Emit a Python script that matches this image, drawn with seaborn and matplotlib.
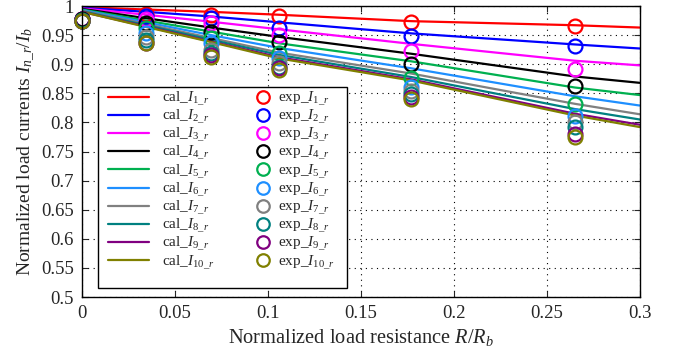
import numpy as np
import pandas as pd
import seaborn as sns
import matplotlib
matplotlib.use("Agg")
import matplotlib.pyplot as plt
from matplotlib.lines import Line2D
from matplotlib.patches import Rectangle
from matplotlib.ticker import FormatStrFormatter

# ---- data ----
names = [f"I{i}" for i in range(1, 11)]
colors = ["#ff0000", "#0000ff", "#ff00ff", "#000000", "#00b050",
          "#1e8fff", "#808080", "#008080", "#800080", "#808000"]

x_cal = [0.0, 0.0344, 0.0694, 0.1059, 0.177, 0.265, 0.3]
cal = {
    "I1":  [0.998, 0.994, 0.990, 0.985, 0.974, 0.967, 0.963],
    "I2":  [0.997, 0.990, 0.982, 0.972, 0.953, 0.934, 0.927],
    "I3":  [0.996, 0.985, 0.973, 0.960, 0.935, 0.906, 0.898],
    "I4":  [0.995, 0.979, 0.963, 0.947, 0.918, 0.879, 0.868],
    "I5":  [0.994, 0.975, 0.956, 0.936, 0.905, 0.860, 0.847],
    "I6":  [0.993, 0.972, 0.950, 0.928, 0.893, 0.845, 0.829],
    "I7":  [0.992, 0.969, 0.945, 0.920, 0.884, 0.832, 0.814],
    "I8":  [0.991, 0.967, 0.942, 0.916, 0.878, 0.823, 0.805],
    "I9":  [0.990, 0.965, 0.939, 0.912, 0.874, 0.815, 0.796],
    "I10": [0.990, 0.964, 0.938, 0.910, 0.872, 0.812, 0.792],
}

x_exp = [0.0, 0.0344, 0.0694, 0.1059, 0.177, 0.265]
exp = {
    "I1":  [0.978, 0.986, 0.985, 0.982, 0.972, 0.966],
    "I2":  [0.978, 0.982, 0.979, 0.962, 0.949, 0.931],
    "I3":  [0.977, 0.977, 0.970, 0.951, 0.922, 0.892],
    "I4":  [0.977, 0.970, 0.956, 0.938, 0.900, 0.862],
    "I5":  [0.976, 0.962, 0.945, 0.919, 0.877, 0.832],
    "I6":  [0.975, 0.953, 0.936, 0.911, 0.861, 0.811],
    "I7":  [0.975, 0.947, 0.925, 0.902, 0.854, 0.800],
    "I8":  [0.974, 0.942, 0.919, 0.896, 0.848, 0.792],
    "I9":  [0.974, 0.936, 0.915, 0.894, 0.844, 0.780],
    "I10": [0.974, 0.937, 0.912, 0.890, 0.840, 0.775],
}

x_ticks = [0, 0.05, 0.1, 0.15, 0.2, 0.25, 0.3]
y_ticks = [0.5, 0.55, 0.6, 0.65, 0.7, 0.75, 0.8, 0.85, 0.9, 0.95, 1.0]

# ---- style ----
sns.set_style("ticks")
plt.rcParams["font.family"] = ["Liberation Serif", "DejaVu Serif"]
plt.rcParams["mathtext.fontset"] = "custom"
plt.rcParams["mathtext.rm"] = "Liberation Serif"
plt.rcParams["mathtext.it"] = "Liberation Serif:italic"
plt.rcParams["mathtext.bf"] = "Liberation Serif:bold"

fig = plt.figure(figsize=(6.85, 3.54), dpi=100)
ax = fig.add_axes([0.12, 0.161, 0.814, 0.822])

cal_df = pd.DataFrame([(n, x, y) for n in names for x, y in zip(x_cal, cal[n])],
                      columns=["series", "x", "y"])
exp_df = pd.DataFrame([(n, x, y) for n in names for x, y in zip(x_exp, exp[n])],
                      columns=["series", "x", "y"])

for n, c in zip(names, colors):
    sns.lineplot(data=cal_df[cal_df.series == n], x="x", y="y", color=c,
                 lw=1.6, ax=ax, legend=False, estimator=None, sort=False)
for n, c in zip(names, colors):
    sns.lineplot(data=exp_df[exp_df.series == n], x="x", y="y", color=c,
                 linestyle="none", marker="o", markersize=10,
                 markerfacecolor="none", markeredgecolor=c, markeredgewidth=1.6,
                 ax=ax, legend=False, estimator=None, sort=False, clip_on=False)

ax.set_xlim(0, 0.3)
ax.set_ylim(0.5, 1.0)
ax.set_xticks(x_ticks)
ax.set_yticks(y_ticks)
ax.xaxis.set_major_formatter(FormatStrFormatter("%g"))
ax.yaxis.set_major_formatter(FormatStrFormatter("%g"))
ax.tick_params(direction="in", top=True, right=True, labelsize=13.5, length=4,
               width=0.8, pad=6)
ax.grid(True, linestyle=(0, (1, 4)), color="black", linewidth=0.8)
for s in ax.spines.values():
    s.set_linewidth(1.0)
    s.set_color("black")

ax.set_xlabel(r"Normalized load resistance $R/R_b$", fontsize=14.7, labelpad=3)
ax.set_ylabel(r"Normalized load currents $I_{n\_r}/I_b$", fontsize=14, labelpad=2)

# legend frame (shared by the two columns)
frame = Rectangle((0.0287, 0.031), 0.4463, 0.691, transform=ax.transAxes,
                  facecolor="white", edgecolor="black", linewidth=1.0,
                  zorder=4.9, clip_on=False)
ax.add_patch(frame)

cal_handles = [Line2D([], [], color=c, lw=1.6) for c in colors]
cal_labels = [r"cal_$I_{%d\_r}$" % (i + 1) for i in range(len(names))]
exp_handles = [Line2D([], [], color=c, linestyle="none", marker="o",
                      markersize=9, markerfacecolor="none",
                      markeredgecolor=c, markeredgewidth=1.6) for c in colors]
exp_labels = [r"exp_$I_{%d\_r}$" % (i + 1) for i in range(len(names))]

common = dict(fontsize=11.0, frameon=False, loc="upper left", borderpad=0,
              borderaxespad=0, labelspacing=0.0)
leg1 = ax.legend(cal_handles, cal_labels, bbox_to_anchor=(0.0466, 0.713),
                 handlelength=2.7, handletextpad=0.85, **common)
ax.add_artist(leg1)
leg2 = ax.legend(exp_handles, exp_labels, bbox_to_anchor=(0.306, 0.713),
                 handlelength=1.3, handletextpad=0.35, **common)

fig.savefig("out.png", dpi=100)
